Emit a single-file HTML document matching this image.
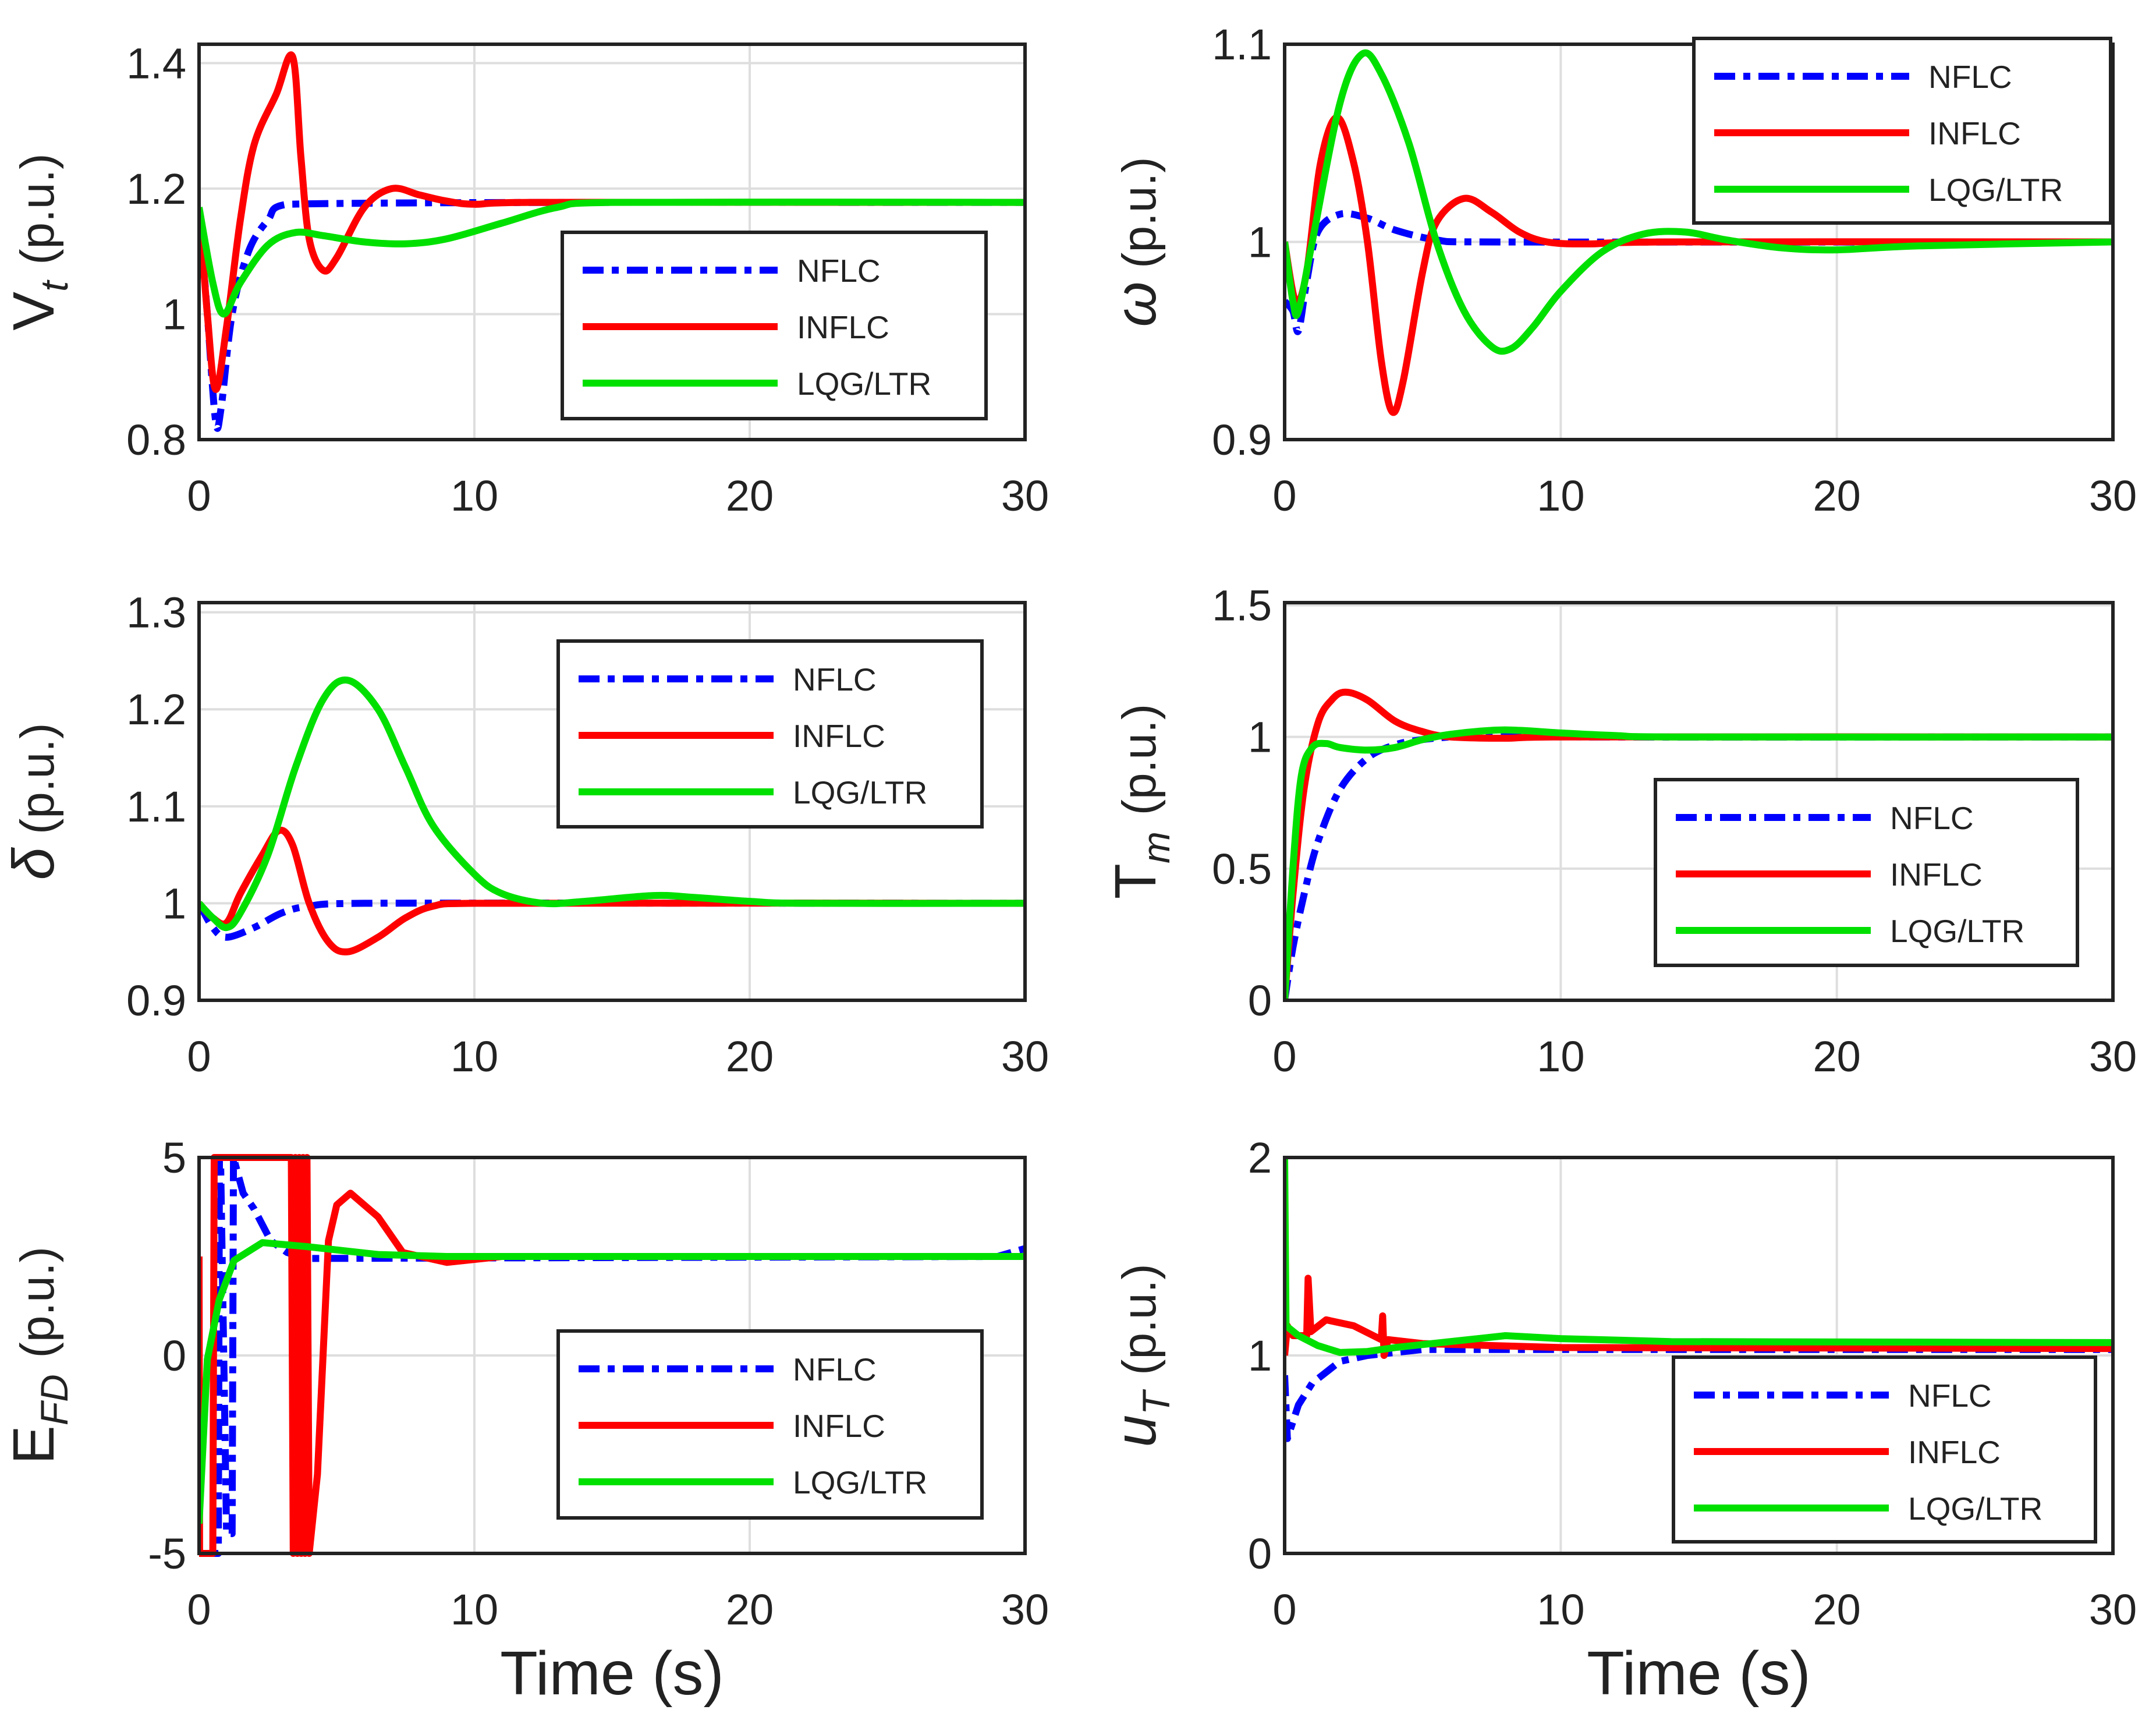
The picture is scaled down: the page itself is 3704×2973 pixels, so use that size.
<!DOCTYPE html>
<html><head><meta charset="utf-8"><style>
html,body{margin:0;padding:0;background:#fff;}
svg{display:block;}
text{font-family:"Liberation Sans",Arial,sans-serif;fill:#222;}
</style></head><body>
<svg id="fig" width="3704" height="2973" viewBox="0 0 3704 2973" xmlns="http://www.w3.org/2000/svg">
<rect width="3704" height="2973" fill="#fff"/>
</svg>
<script>
const xTicks=[0,10,20,30];
// Vt
const vtT_nflc=[0,0.3,0.6,0.8,1.2,1.8,2.5,3.2,30];
const vtV_nflc=[1.17,1.0,0.83,0.85,1.0,1.1,1.15,1.175,1.178];
const vtT_inflc=[0,0.3,0.6,1,1.5,2,2.8,3.4,3.7,4,4.5,5,6,7,8,9,10,12,30];
const vtV_inflc=[1.17,1.0,0.88,0.98,1.15,1.27,1.35,1.41,1.25,1.12,1.07,1.09,1.17,1.2,1.19,1.18,1.175,1.178,1.178];
const vtT_lqg=[0,0.5,0.9,1.5,2.5,3.5,4.5,6,7.5,9,11,13,15,30];
const vtV_lqg=[1.17,1.05,1.0,1.05,1.11,1.13,1.125,1.115,1.112,1.12,1.145,1.17,1.178,1.178];
// omega
const wT_nflc=[0,0.3,0.5,0.8,1.2,2,3,4,5.5,7,30];
const wV_nflc=[0.97,0.965,0.955,0.98,1.005,1.014,1.012,1.006,1.001,1.0,1.0];
const wT_inflc=[0,0.4,0.8,1.3,1.9,2.5,3,3.5,3.9,4.3,5,5.5,6.5,7.5,8.5,9.5,11,14,30];
const wV_inflc=[1.0,0.97,0.985,1.04,1.063,1.04,1.0,0.94,0.914,0.93,0.985,1.01,1.022,1.015,1.005,1.0,0.999,1.0,1.0];
const wT_lqg=[0,0.3,0.5,1,2,2.8,3.5,4.5,5.5,6.5,7.5,8.2,9,10,11.5,13,14.5,16,18,20,23,30];
const wV_lqg=[1.0,0.97,0.965,1.0,1.07,1.095,1.085,1.05,1.0,0.965,0.947,0.946,0.957,0.975,0.995,1.004,1.005,1.001,0.997,0.996,0.998,1.0];
// delta
const dT_nflc=[0,0.5,1,2,3,4,6,30];
const dV_nflc=[1.0,0.975,0.965,0.975,0.99,0.997,1.0,1.0];
const dT_inflc=[0,0.5,1,1.5,2.3,2.9,3.4,4,4.7,5.4,6.5,7.5,8.5,10,30];
const dV_inflc=[1.0,0.985,0.98,1.01,1.05,1.075,1.06,1.0,0.96,0.95,0.965,0.985,0.997,1.0,1.0];
const dT_lqg=[0,0.5,1,1.5,2.5,3.5,4.5,5.4,6.5,7.5,8.5,10,11,12.5,14,16.5,18,20,22,30];
const dV_lqg=[1.0,0.985,0.975,0.99,1.05,1.14,1.21,1.23,1.2,1.14,1.08,1.03,1.01,1.0,1.002,1.008,1.006,1.002,1.0,1.0];
// Tm
const tmT_nflc=[0,0.3,0.7,1.2,2,3,4,5,6,7.5,9,11,30];
const tmV_nflc=[0,0.2,0.4,0.6,0.8,0.92,0.97,0.99,1.0,1.01,1.005,1.0,1.0];
const tmT_inflc=[0,0.3,0.7,1.2,1.7,2.2,3,4,5,6,8,10,30];
const tmV_inflc=[0,0.4,0.8,1.05,1.14,1.17,1.14,1.06,1.02,1.0,0.995,1.0,1.0];
const tmT_lqg=[0,0.3,0.6,1,1.5,2,3,4,5,6,7.5,8.5,10,12,14,30];
const tmV_lqg=[0,0.5,0.85,0.96,0.975,0.96,0.95,0.96,0.99,1.01,1.025,1.025,1.015,1.005,1.0,1.0];
// EFD
const eT_nflc=[0,0.7,0.74,0.78,1.0,1.2,1.25,1.6,2,2.6,3.2,3.9,29,30];
const eV_nflc=[-5,-5,5,5,-4.5,-4.5,5,4.1,3.7,2.9,2.6,2.45,2.5,2.7];
const eT_inflc=[0,0.02,0.5,0.55,3.35,3.42,3.5,3.57,3.64,3.71,3.78,3.85,3.92,4.0,4.3,4.7,5.0,5.5,6.5,7.4,9,11,30];
const eV_inflc=[2.5,-5,-5,5,5,-5,5,-5,5,-5,5,-5,5,-5,-3,2.9,3.8,4.1,3.5,2.6,2.35,2.5,2.5];
const eT_lqg=[0,0.3,0.73,1.27,2.3,3.9,6.5,9,30];
const eV_lqg=[-4.25,-0.1,1.4,2.4,2.85,2.75,2.55,2.5,2.5];
// uT
const uT_nflc=[0,0.1,0.5,1,2,3,5,30];
const uV_nflc=[0.9,0.58,0.75,0.86,0.97,1.0,1.03,1.03];
const uT_inflc=[0,0.1,0.3,0.8,0.85,0.95,1.5,2.5,3.5,3.55,3.6,3.75,5,10,30];
const uV_inflc=[1.0,1.15,1.1,1.1,1.39,1.12,1.18,1.15,1.08,1.2,1.0,1.08,1.06,1.04,1.035];
const uT_lqg=[0,0.05,0.5,1.2,2,3,4,6,8,10,14,30];
const uV_lqg=[2,1.15,1.1,1.05,1.015,1.02,1.04,1.07,1.1,1.085,1.07,1.065];

const NS="http://www.w3.org/2000/svg";
const svg=document.getElementById('fig');
function mk(tag,attrs,parent){const e=document.createElementNS(NS,tag);for(const k in attrs)e.setAttribute(k,attrs[k]);(parent||svg).appendChild(e);return e;}
const COLORS={nflc:'#0000ff',inflc:'#ff0000',lqg:'#00e000'};
function smoothPath(pts){
 let d='M'+pts[0][0].toFixed(1)+','+pts[0][1].toFixed(1);
 for(let i=0;i<pts.length-1;i++){
  const p0=pts[Math.max(0,i-1)],p1=pts[i],p2=pts[i+1],p3=pts[Math.min(pts.length-1,i+2)];
  const k=1/6;
  let c1x=p1[0]+(p2[0]-p0[0])*k,c1y=p1[1]+(p2[1]-p0[1])*k;
  let c2x=p2[0]-(p3[0]-p1[0])*k,c2y=p2[1]-(p3[1]-p1[1])*k;
  c1x=Math.min(Math.max(c1x,p1[0]),p2[0]);c2x=Math.min(Math.max(c2x,p1[0]),p2[0]);
  d+=' C'+c1x.toFixed(1)+','+c1y.toFixed(1)+' '+c2x.toFixed(1)+','+c2y.toFixed(1)+' '+p2[0].toFixed(1)+','+p2[1].toFixed(1);
 }
 return d;
}
const plots=[
 {id:'vt',x0:342,x1:1761,y0:76,y1:755,ymin:0.8,ymax:1.43,ticks:[0.8,1,1.2,1.4],labels:['0.8','1','1.2','1.4'],smooth:true,
  series:[['nflc',vtT_nflc,vtV_nflc],['inflc',vtT_inflc,vtV_inflc],['lqg',vtT_lqg,vtV_lqg]],leg:[966,399,728,320],ylab:'vt',time:false},
 {id:'omega',x0:2207,x1:3630,y0:76,y1:755,ymin:0.9,ymax:1.1,ticks:[0.9,1,1.1],labels:['0.9','1','1.1'],smooth:true,
  series:[['nflc',wT_nflc,wV_nflc],['inflc',wT_inflc,wV_inflc],['lqg',wT_lqg,wV_lqg]],leg:[2910,66,716,317],ylab:'w',time:false},
 {id:'delta',x0:342,x1:1761,y0:1035,y1:1718,ymin:0.9,ymax:1.31,ticks:[0.9,1,1.1,1.2,1.3],labels:['0.9','1','1.1','1.2','1.3'],smooth:true,
  series:[['nflc',dT_nflc,dV_nflc],['inflc',dT_inflc,dV_inflc],['lqg',dT_lqg,dV_lqg]],leg:[959,1101,728,319],ylab:'d',time:false},
 {id:'tm',x0:2207,x1:3630,y0:1035,y1:1718,ymin:0,ymax:1.51,ticks:[0,0.5,1,1.5],labels:['0','0.5','1','1.5'],smooth:true,
  series:[['nflc',tmT_nflc,tmV_nflc],['inflc',tmT_inflc,tmV_inflc],['lqg',tmT_lqg,tmV_lqg]],leg:[2844,1339,725,319],ylab:'tm',time:false},
 {id:'efd',x0:342,x1:1761,y0:1988,y1:2668,ymin:-5,ymax:5,ticks:[-5,0,5],labels:['-5','0','5'],smooth:false,
  series:[['nflc',eT_nflc,eV_nflc],['inflc',eT_inflc,eV_inflc],['lqg',eT_lqg,eV_lqg]],leg:[959,2286,728,321],ylab:'efd',time:true},
 {id:'ut',x0:2207,x1:3630,y0:1988,y1:2668,ymin:0,ymax:2,ticks:[0,1,2],labels:['0','1','2'],smooth:false,
  series:[['nflc',uT_nflc,uV_nflc],['inflc',uT_inflc,uV_inflc],['lqg',uT_lqg,uV_lqg]],leg:[2875,2331,725,317],ylab:'ut',time:true}
];
plots.forEach(p=>{
 const g=mk('g',{});
 
 
 const X=t=>p.x0+(t/30)*(p.x1-p.x0);
 const Y=v=>p.y1-(v-p.ymin)/(p.ymax-p.ymin)*(p.y1-p.y0);
 xTicks.forEach(t=>{
  const l=mk('line',{x1:X(t),x2:X(t),y1:p.y0,y2:p.y1,stroke:'#dedede','stroke-width':4},g);
  
  
  const tx=mk('text',{x:X(t),y:p.y1+122,'font-size':74,'text-anchor':'middle'},g);
  tx.textContent=String(t);
  
  
 });
 p.ticks.forEach((v,i)=>{
  const l=mk('line',{x1:p.x0,x2:p.x1,y1:Y(v),y2:Y(v),stroke:'#dedede','stroke-width':4},g);
  
  
  const tx=mk('text',{x:p.x0-22,y:Y(v)+26,'font-size':74,'text-anchor':'end'},g);
  tx.textContent=p.labels[i];
  
  
 });
 const clip=mk('clipPath',{id:'c'+p.id},g);
 mk('rect',{x:p.x0,y:p.y0-8,width:p.x1-p.x0+8,height:p.y1-p.y0+16},clip);
 p.series.forEach(s=>{
  const [key,ts,vs]=s;
  const pts=ts.map((t,i)=>[X(t),Y(vs[i])]);
  const d=p.smooth?smoothPath(pts):pts.map((q,i)=>(i?'L':'M')+q[0].toFixed(1)+','+q[1].toFixed(1)).join(' ');
  const path=mk('path',{d:d,fill:'none',stroke:COLORS[key],'stroke-width':12,'stroke-linejoin':'round','clip-path':'url(#c'+p.id+')'},g);
  if(key==='nflc')path.setAttribute('stroke-dasharray','36,14,12,14');
  
  
 });
 const box=mk('rect',{x:p.x0,y:p.y0,width:p.x1-p.x0,height:p.y1-p.y0,fill:'none',stroke:'#222','stroke-width':6},g);
 
 
 const [lx,ly,lw,lh]=p.leg;
 const lg=mk('g',{},g);
 
 
 mk('rect',{x:lx,y:ly,width:lw,height:lh,fill:'#fff',stroke:'#222','stroke-width':6},lg);
 const names=['NFLC','INFLC','LQG/LTR'],keys=['nflc','inflc','lqg'];
 names.forEach((n,i)=>{
  const ry=ly+65+i*97;
  const ln=mk('line',{x1:lx+35,x2:lx+370,y1:ry,y2:ry,stroke:COLORS[keys[i]],'stroke-width':12},lg);
  if(i===0)ln.setAttribute('stroke-dasharray','36,14,12,14');
  
  
  const tx=mk('text',{x:lx+403,y:ry+20,'font-size':55},lg);
  tx.textContent=n;
  
  
 });
 const cx=p.x0<1000?92:1985, cy=(p.y0+p.y1)/2;
 const yl=mk('text',{x:cx,y:cy,'font-size':100,'text-anchor':'middle',transform:'rotate(-90 '+cx+' '+cy+')'},g);
 const sym={vt:['V','t'],w:['ω',''],d:['δ',''],tm:['T','m'],efd:['E','FD'],ut:['u','T']}[p.ylab];
 let html='<tspan font-style="'+(p.ylab==='w'||p.ylab==='d'||p.ylab==='ut'?'italic':'normal')+'">'+sym[0]+'</tspan>';
 if(sym[1])html+='<tspan font-size="66" font-style="italic" dy="24">'+sym[1]+'</tspan><tspan dy="-24"> </tspan>';
 html+='<tspan font-size="82"> (p.u.)</tspan>';
 yl.innerHTML=html;
 
 
 if(p.time){
  const tt=mk('text',{x:(p.x0+p.x1)/2,y:2910,'font-size':106,'text-anchor':'middle'},g);
  tt.textContent='Time (s)';
  
  
 }
});
</script>
</body></html>
